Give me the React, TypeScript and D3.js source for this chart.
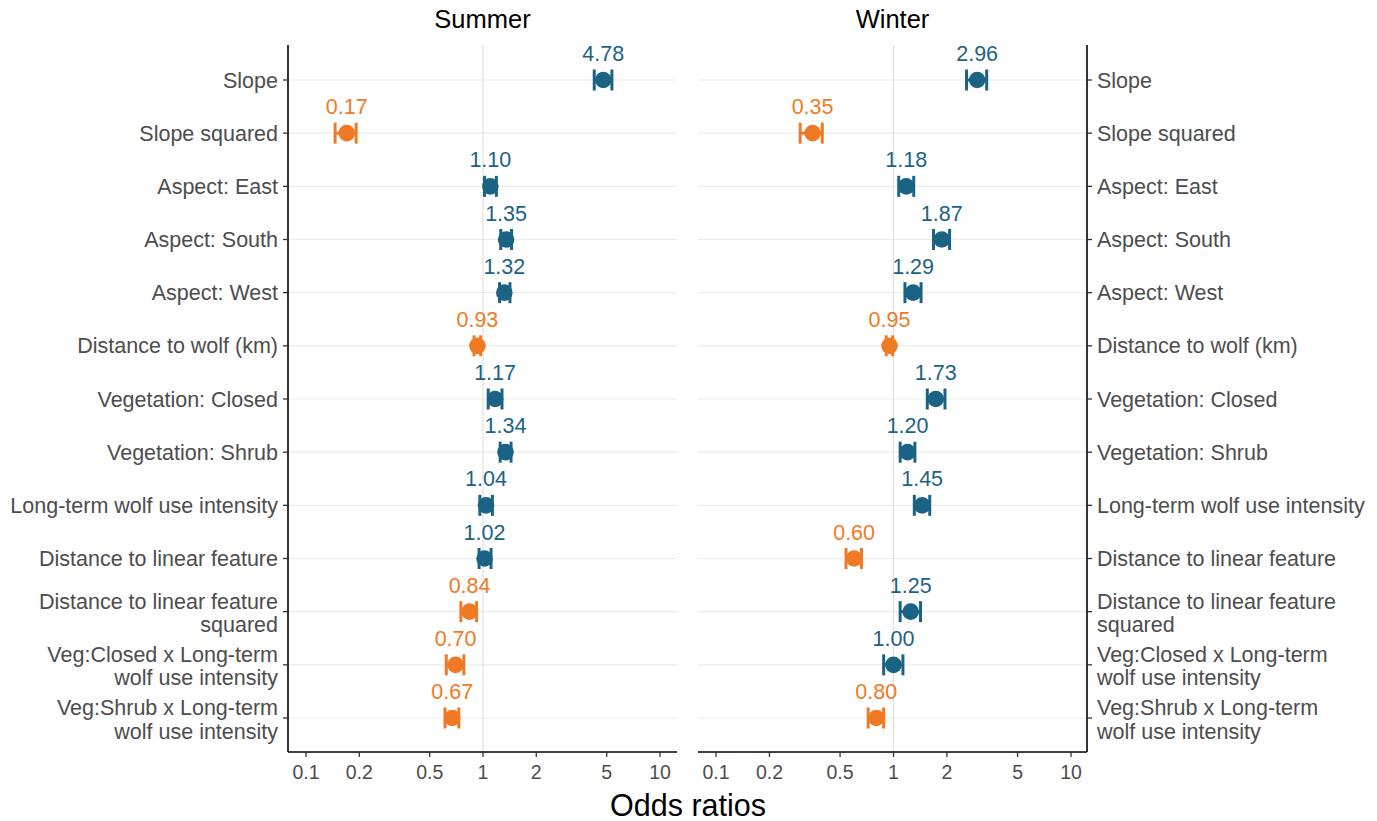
import * as d3 from "d3";

const terms = [
  "Slope",
  "Slope squared",
  "Aspect: East",
  "Aspect: South",
  "Aspect: West",
  "Distance to wolf (km)",
  "Vegetation: Closed",
  "Vegetation: Shrub",
  "Long-term wolf use intensity",
  "Distance to linear feature",
  "Distance to linear feature\nsquared",
  "Veg:Closed x Long-term\nwolf use intensity",
  "Veg:Shrub x Long-term\nwolf use intensity",
];

const summerOR = [4.78, 0.17, 1.1, 1.35, 1.32, 0.93, 1.17, 1.34, 1.04, 1.02, 0.84, 0.7, 0.67];
const summerLow = [4.25, 0.146, 1.02, 1.26, 1.24, 0.89, 1.07, 1.25, 0.96, 0.95, 0.75, 0.62, 0.61];
const summerHigh = [5.35, 0.192, 1.19, 1.45, 1.42, 0.97, 1.28, 1.44, 1.13, 1.11, 0.92, 0.78, 0.73];

const winterOR = [2.96, 0.35, 1.18, 1.87, 1.29, 0.95, 1.73, 1.2, 1.45, 0.6, 1.25, 1.0, 0.8];
const winterLow = [2.58, 0.298, 1.07, 1.68, 1.16, 0.91, 1.55, 1.09, 1.31, 0.54, 1.09, 0.88, 0.72];
const winterHigh = [3.35, 0.397, 1.3, 2.07, 1.43, 0.99, 1.95, 1.32, 1.6, 0.66, 1.42, 1.13, 0.88];

const xTicks = [0.1, 0.2, 0.5, 1, 2, 5, 10];

const BLUE = "#1b6384";
const ORANGE = "#f07a24";
const FONT = "'Liberation Sans', Arial, sans-serif";

const panelTop = 45;
const panelBottom = 752;

const y = d3.scalePoint<string>().domain(terms).range([80, 718]);

type PanelProps = {
  title: string;
  left: number;
  right: number;
  x0: number;
  x1: number;
  or: number[];
  low: number[];
  high: number[];
  side: "left" | "right";
};

function Panel({ title, left, right, x0, x1, or, low, high, side }: PanelProps) {
  const x = d3.scaleLog().domain([0.1, 10]).range([x0, x1]);
  const axisX = side === "left" ? left : right;
  const tickDir = side === "left" ? -1 : 1;
  return (
    <g>
      <text x={(left + right) / 2} y={28} textAnchor="middle" fontSize={25.5} fill="#000">
        {title}
      </text>
      {terms.map((t) => (
        <line key={t} x1={left} x2={right} y1={y(t)} y2={y(t)} stroke="#ebebeb" strokeWidth={1.1} />
      ))}
      <line x1={x(1)} x2={x(1)} y1={panelTop} y2={panelBottom} stroke="#dedede" strokeWidth={1.1} />

      {terms.map((t, i) => {
        const cy = y(t) as number;
        const col = or[i] < 1 ? ORANGE : BLUE;
        return (
          <g key={t}>
            <line x1={x(low[i])} x2={x(high[i])} y1={cy} y2={cy} stroke={col} strokeWidth={3} />
            <line x1={x(low[i])} x2={x(low[i])} y1={cy - 10.5} y2={cy + 10.5} stroke={col} strokeWidth={3} />
            <line x1={x(high[i])} x2={x(high[i])} y1={cy - 10.5} y2={cy + 10.5} stroke={col} strokeWidth={3} />
            <circle cx={x(or[i])} cy={cy} r={8.3} fill={col} />
            <text x={x(or[i])} y={cy - 19} textAnchor="middle" fontSize={21.5} fill={col}>
              {or[i].toFixed(2)}
            </text>
          </g>
        );
      })}

      {/* y axis */}
      <line x1={axisX} x2={axisX} y1={panelTop} y2={panelBottom} stroke="#000" strokeWidth={1.6} />
      {terms.map((t) => {
        const cy = y(t) as number;
        const lines = t.split("\n");
        const tx = axisX + tickDir * 10;
        return (
          <g key={t}>
            <line x1={axisX} x2={axisX + tickDir * 5} y1={cy} y2={cy} stroke="#333" strokeWidth={1.3} />
            <text
              x={tx}
              textAnchor={side === "left" ? "end" : "start"}
              fontSize={21.5}
              fill="#4d4d4d"
            >
              {lines.map((l, k) => (
                <tspan key={k} x={tx} y={lines.length === 1 ? cy + 7.5 : cy - 3 + k * 23.5}>
                  {l}
                </tspan>
              ))}
            </text>
          </g>
        );
      })}

      {/* x axis */}
      <line x1={left} x2={right} y1={panelBottom} y2={panelBottom} stroke="#000" strokeWidth={1.6} />
      {xTicks.map((v) => (
        <g key={v}>
          <line x1={x(v)} x2={x(v)} y1={panelBottom} y2={panelBottom + 5} stroke="#333" strokeWidth={1.3} />
          <text x={x(v)} y={779} textAnchor="middle" fontSize={19.5} fill="#4d4d4d">
            {String(v)}
          </text>
        </g>
      ))}
    </g>
  );
}

export default function App() {
  return (
    <svg
      width={1377}
      height={821}
      style={{ position: "absolute", left: 0, top: 0, background: "#fff" }}
      fontFamily={FONT}
    >
      <rect width={1377} height={821} fill="#fff" />
      <Panel
        title="Summer"
        left={288}
        right={677}
        x0={306}
        x1={660}
        or={summerOR}
        low={summerLow}
        high={summerHigh}
        side="left"
      />
      <Panel
        title="Winter"
        left={698}
        right={1087}
        x0={716}
        x1={1071}
        or={winterOR}
        low={winterLow}
        high={winterHigh}
        side="right"
      />
      <text x={688} y={816} textAnchor="middle" fontSize={30.5} fill="#000">
        Odds ratios
      </text>
    </svg>
  );
}
